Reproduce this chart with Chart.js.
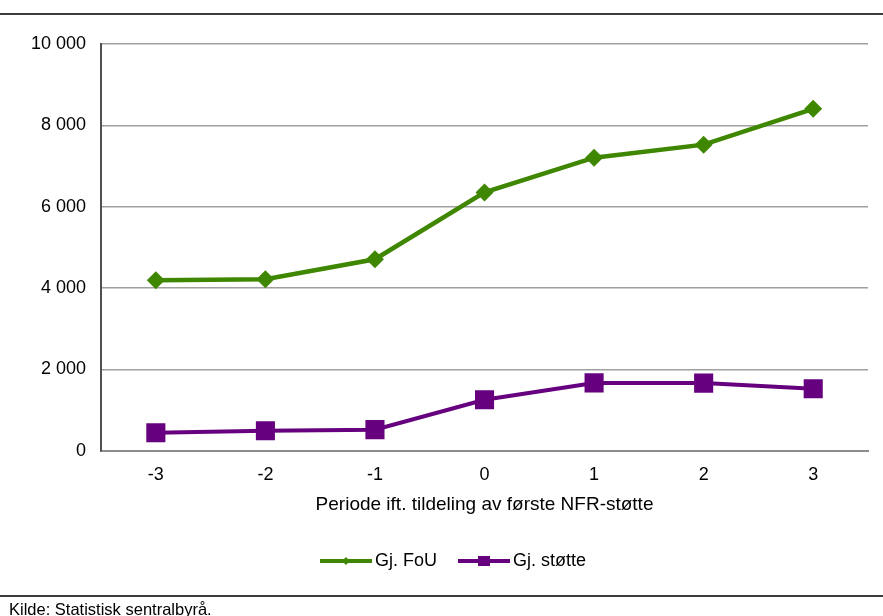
<!DOCTYPE html>
<html>
<head>
<meta charset="utf-8">
<script src="https://cdn.jsdelivr.net/npm/chart.js@4.4.1/dist/chart.umd.min.js"></script>
<style>
  html, body { margin: 0; padding: 0; background: #fff; }
  #wrap { position: relative; width: 883px; height: 616px; }
</style>
</head>
<body>
<div id="wrap"><canvas id="fouChart" width="883" height="616"></canvas></div>
<script>
// Periods relative to first NFR grant
const periods = ['-3', '-2', '-1', '0', '1', '2', '3'];
const avgFoU = [4190, 4215, 4705, 6350, 7205, 7525, 8405];
const avgSupport = [440, 490, 515, 1250, 1665, 1660, 1520];
const yTicks = [0, 2000, 4000, 6000, 8000, 10000];

const green = '#3f8700';
const purple = '#66007f';
const fontFamily = '"Liberation Sans", Arial, sans-serif';

// little line+marker image for the legend entries
function legendIcon(color, style) {
  const c = document.createElement('canvas');
  c.width = 52; c.height = 14;
  const g = c.getContext('2d');
  g.strokeStyle = color;
  g.lineWidth = 4;
  g.beginPath(); g.moveTo(0, 7); g.lineTo(52, 7); g.stroke();
  g.fillStyle = color;
  if (style === 'rect') {
    g.fillRect(20, 2, 12, 10);
  } else {
    g.beginPath(); g.moveTo(26, 3); g.lineTo(30, 7); g.lineTo(26, 11); g.lineTo(22, 7); g.closePath(); g.fill();
  }
  return c;
}

// frame: top rule, bottom rule and source line
const framePlugin = {
  id: 'frame',
  afterLayout(chart) {
    // legend sits a little right of centre in the original
    chart.legend.left += 14;
    chart.legend.right += 14;
  },
  afterDraw(chart) {
    const ctx = chart.ctx;
    ctx.save();
    ctx.fillStyle = '#3c3c3c';
    ctx.fillRect(0, 13, 883, 2);
    ctx.fillRect(0, 595, 883, 2);
    ctx.fillStyle = '#000';
    ctx.font = '16.5px ' + fontFamily;
    ctx.textBaseline = 'top';
    ctx.fillText('Kilde: Statistisk sentralbyrå.', 9, 602);
    ctx.restore();
  }
};

new Chart(document.getElementById('fouChart'), {
  type: 'line',
  data: {
    labels: periods,
    datasets: [
      {
        label: 'Gj. FoU',
        data: avgFoU,
        borderColor: green,
        backgroundColor: green,
        borderWidth: 4.5,
        pointStyle: 'rectRot',
        pointRadius: 9,
        pointBorderWidth: 0,
        fill: false,
        tension: 0
      },
      {
        label: 'Gj. støtte',
        data: avgSupport,
        borderColor: purple,
        backgroundColor: purple,
        borderWidth: 4,
        pointStyle: 'rect',
        pointRadius: 13.5,
        pointBorderWidth: 0,
        fill: false,
        tension: 0
      }
    ]
  },
  options: {
    responsive: false,
    animation: false,
    layout: { padding: { top: 44, left: 16, right: 15, bottom: 36 } },
    plugins: {
      tooltip: { enabled: false },
      legend: {
        position: 'bottom',
        labels: {
          usePointStyle: true,
          pointStyleWidth: 40,
          boxHeight: 14,
          padding: 27,
          color: '#000',
          font: { family: fontFamily, size: 18 },
          generateLabels(chart) {
            return chart.data.datasets.map((ds, i) => ({
              text: ds.label,
              fillStyle: ds.borderColor,
              strokeStyle: ds.borderColor,
              lineWidth: 0,
              pointStyle: legendIcon(ds.borderColor, i === 0 ? 'diamond' : 'rect'),
              datasetIndex: i,
              hidden: false
            }));
          }
        }
      }
    },
    scales: {
      x: {
        offset: true,
        grid: { display: false, drawTicks: false },
        border: { color: '#8c8c8c', width: 2 },
        ticks: {
          color: '#000',
          padding: 14,
          font: { family: fontFamily, size: 18 }
        },
        title: {
          display: true,
          text: 'Periode ift. tildeling av første NFR-støtte',
          color: '#000',
          padding: { top: -7, bottom: 9 },
          font: { family: fontFamily, size: 19 }
        }
      },
      y: {
        min: 0,
        max: 10000,
        afterBuildTicks(axis) {
          axis.ticks = yTicks.map(v => ({ value: v }));
        },
        grid: { color: '#a0a0a0', lineWidth: 1.5, drawTicks: false },
        border: { color: '#505050', width: 2 },
        ticks: {
          color: '#000',
          padding: 15,
          font: { family: fontFamily, size: 18 },
          callback: v => v.toString().replace(/\B(?=(\d{3})+(?!\d))/g, ' ')
        }
      }
    }
  },
  plugins: [framePlugin]
});
</script>
</body>
</html>
